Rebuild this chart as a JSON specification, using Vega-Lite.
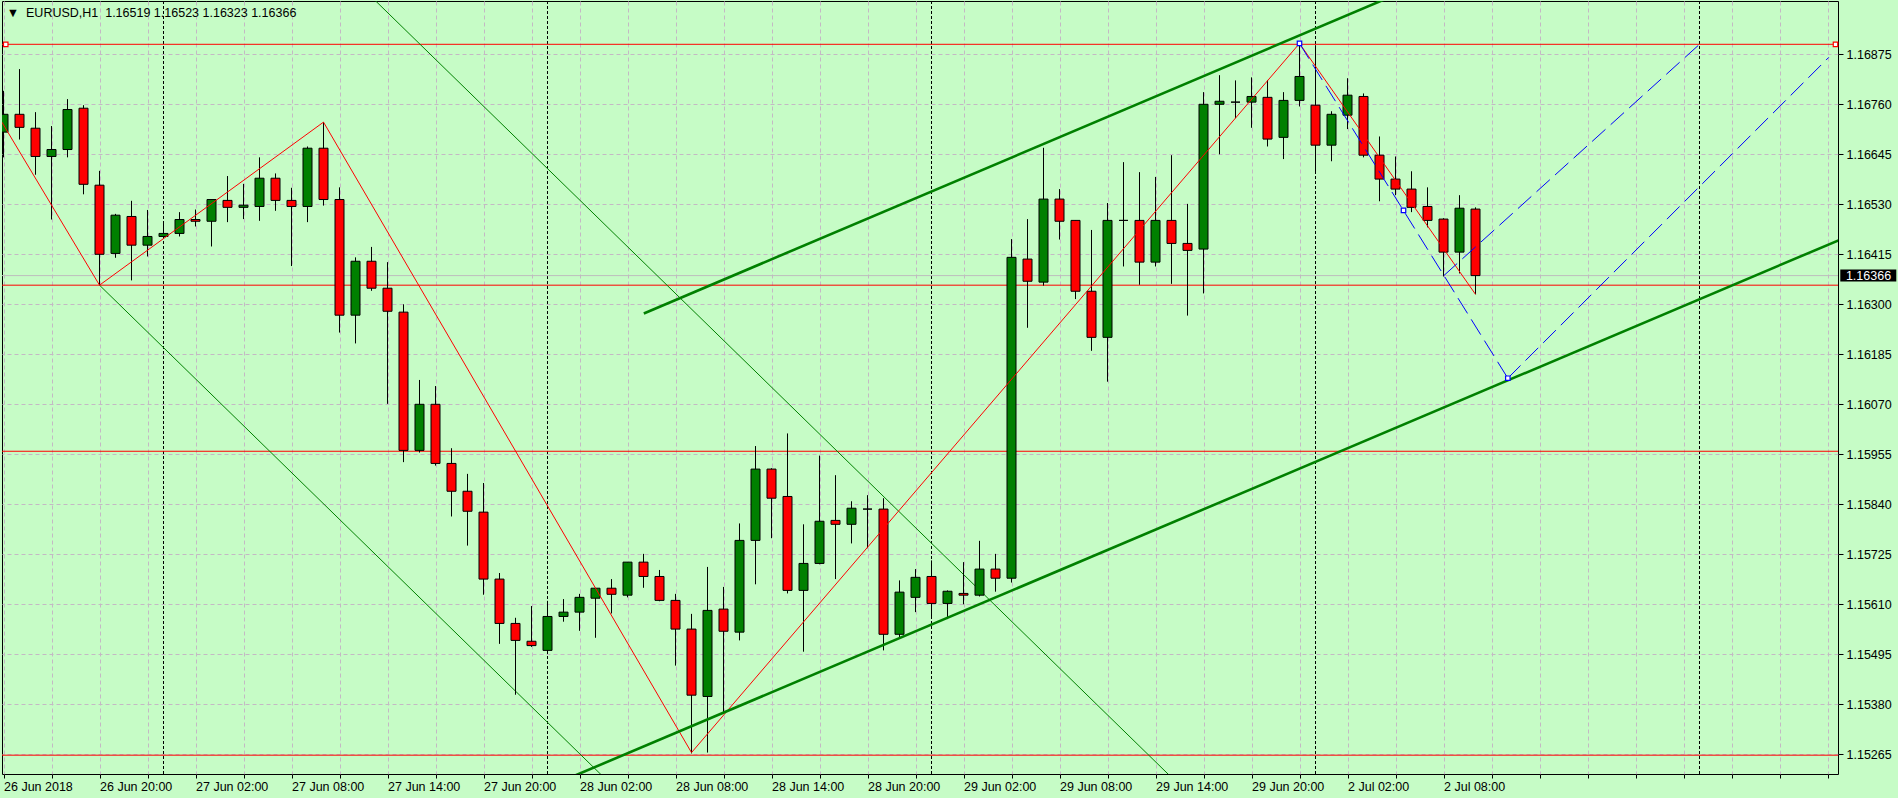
{
  "$schema": "https://vega.github.io/schema/vega-lite/v6.json",
  "width": 1836,
  "height": 773,
  "autosize": {"type": "none"},
  "padding": {"left": 2, "top": 1, "right": 60, "bottom": 24},
  "background": "#c6fcc6",
  "view": {"fill": "#c6fcc6", "stroke": "#000000", "strokeWidth": 1},
  "config": {
    "scale": {"continuousPadding": 0},
    "axis": {
      "domain": false, "grid": true, "gridColor": "#c4b8c4", "gridDash": [4, 3], "gridWidth": 1,
      "tickColor": "#000000", "labelColor": "#000000", "labelFont": "Liberation Sans",
      "labelFontSize": 12.5, "labelOverlap": false, "labelBound": false, "labelFlush": false
    }
  },
  "datasets": {
    "candles": [
      {"i":0,"o":1.16696,"h":1.16791,"l":1.16638,"c":1.16737},
      {"i":1,"o":1.16737,"h":1.16841,"l":1.16679,"c":1.16707},
      {"i":2,"o":1.16705,"h":1.16742,"l":1.16598,"c":1.16640},
      {"i":3,"o":1.16640,"h":1.16710,"l":1.16495,"c":1.16656},
      {"i":4,"o":1.16656,"h":1.16772,"l":1.16638,"c":1.16748},
      {"i":5,"o":1.16751,"h":1.16758,"l":1.16553,"c":1.16576},
      {"i":6,"o":1.16574,"h":1.16607,"l":1.16344,"c":1.16415},
      {"i":7,"o":1.16417,"h":1.16508,"l":1.16407,"c":1.16505},
      {"i":8,"o":1.16502,"h":1.16538,"l":1.16355,"c":1.16436},
      {"i":9,"o":1.16436,"h":1.16517,"l":1.16410,"c":1.16456},
      {"i":10,"o":1.16456,"h":1.16486,"l":1.16453,"c":1.16463},
      {"i":11,"o":1.16463,"h":1.16512,"l":1.16456,"c":1.16495},
      {"i":12,"o":1.16495,"h":1.16518,"l":1.16479,"c":1.16491},
      {"i":13,"o":1.16491,"h":1.16541,"l":1.16433,"c":1.16541},
      {"i":14,"o":1.16539,"h":1.16595,"l":1.16489,"c":1.16523},
      {"i":15,"o":1.16523,"h":1.16577,"l":1.16496,"c":1.16528},
      {"i":16,"o":1.16525,"h":1.16638,"l":1.16492,"c":1.16590},
      {"i":17,"o":1.16590,"h":1.16601,"l":1.16515,"c":1.16539},
      {"i":18,"o":1.16539,"h":1.16568,"l":1.16388,"c":1.16525},
      {"i":19,"o":1.16525,"h":1.16663,"l":1.16489,"c":1.16659},
      {"i":20,"o":1.16659,"h":1.16719,"l":1.16527,"c":1.16541},
      {"i":21,"o":1.16541,"h":1.16569,"l":1.16235,"c":1.16275},
      {"i":22,"o":1.16275,"h":1.16408,"l":1.16210,"c":1.16399},
      {"i":23,"o":1.16399,"h":1.16432,"l":1.16331,"c":1.16337},
      {"i":24,"o":1.16337,"h":1.16397,"l":1.16071,"c":1.16284},
      {"i":25,"o":1.16282,"h":1.16300,"l":1.15937,"c":1.15964},
      {"i":26,"o":1.15964,"h":1.16126,"l":1.15959,"c":1.16070},
      {"i":27,"o":1.16070,"h":1.16112,"l":1.15929,"c":1.15934},
      {"i":28,"o":1.15934,"h":1.15969,"l":1.15812,"c":1.15870},
      {"i":29,"o":1.15870,"h":1.15910,"l":1.15745,"c":1.15824},
      {"i":30,"o":1.15822,"h":1.15889,"l":1.15632,"c":1.15668},
      {"i":31,"o":1.15668,"h":1.15682,"l":1.15519,"c":1.15566},
      {"i":32,"o":1.15566,"h":1.15579,"l":1.15402,"c":1.15527},
      {"i":33,"o":1.15525,"h":1.15606,"l":1.15512,"c":1.15515},
      {"i":34,"o":1.15504,"h":1.15618,"l":1.15500,"c":1.15582},
      {"i":35,"o":1.15582,"h":1.15622,"l":1.15570,"c":1.15592},
      {"i":36,"o":1.15592,"h":1.15634,"l":1.15549,"c":1.15626},
      {"i":37,"o":1.15624,"h":1.15647,"l":1.15533,"c":1.15647},
      {"i":38,"o":1.15647,"h":1.15668,"l":1.15589,"c":1.15633},
      {"i":39,"o":1.15631,"h":1.15707,"l":1.15626,"c":1.15707},
      {"i":40,"o":1.15707,"h":1.15726,"l":1.15648,"c":1.15674},
      {"i":41,"o":1.15674,"h":1.15689,"l":1.15617,"c":1.15619},
      {"i":42,"o":1.15619,"h":1.15634,"l":1.15469,"c":1.15553},
      {"i":43,"o":1.15553,"h":1.15588,"l":1.15267,"c":1.15401},
      {"i":44,"o":1.15398,"h":1.15696,"l":1.15269,"c":1.15596},
      {"i":45,"o":1.15599,"h":1.15650,"l":1.15362,"c":1.15548},
      {"i":46,"o":1.15546,"h":1.15796,"l":1.15527,"c":1.15757},
      {"i":47,"o":1.15757,"h":1.15974,"l":1.15656,"c":1.15921},
      {"i":48,"o":1.15921,"h":1.15923,"l":1.15762,"c":1.15854},
      {"i":49,"o":1.15858,"h":1.16003,"l":1.15635,"c":1.15642},
      {"i":50,"o":1.15642,"h":1.15794,"l":1.15501,"c":1.15704},
      {"i":51,"o":1.15704,"h":1.15952,"l":1.15702,"c":1.15801},
      {"i":52,"o":1.15803,"h":1.15907,"l":1.15668,"c":1.15794},
      {"i":53,"o":1.15794,"h":1.15847,"l":1.15750,"c":1.15831},
      {"i":54,"o":1.15829,"h":1.15861,"l":1.15739,"c":1.15829},
      {"i":55,"o":1.15829,"h":1.15854,"l":1.15504,"c":1.15541},
      {"i":56,"o":1.15541,"h":1.15665,"l":1.15534,"c":1.15638},
      {"i":57,"o":1.15626,"h":1.15691,"l":1.15592,"c":1.15672},
      {"i":58,"o":1.15674,"h":1.15711,"l":1.15580,"c":1.15612},
      {"i":59,"o":1.15612,"h":1.15642,"l":1.15576,"c":1.15640},
      {"i":60,"o":1.15635,"h":1.15707,"l":1.15610,"c":1.15631},
      {"i":61,"o":1.15631,"h":1.15756,"l":1.15628,"c":1.15691},
      {"i":62,"o":1.15691,"h":1.15726,"l":1.15639,"c":1.15670},
      {"i":63,"o":1.15670,"h":1.16450,"l":1.15660,"c":1.16408},
      {"i":64,"o":1.16404,"h":1.16496,"l":1.16246,"c":1.16353},
      {"i":65,"o":1.16351,"h":1.16660,"l":1.16343,"c":1.16542},
      {"i":66,"o":1.16542,"h":1.16565,"l":1.16449,"c":1.16491},
      {"i":67,"o":1.16493,"h":1.16493,"l":1.16312,"c":1.16330},
      {"i":68,"o":1.16330,"h":1.16471,"l":1.16193,"c":1.16224},
      {"i":69,"o":1.16224,"h":1.16533,"l":1.16122,"c":1.16493},
      {"i":70,"o":1.16493,"h":1.16627,"l":1.16387,"c":1.16493},
      {"i":71,"o":1.16493,"h":1.16604,"l":1.16345,"c":1.16397},
      {"i":72,"o":1.16397,"h":1.16593,"l":1.16387,"c":1.16493},
      {"i":73,"o":1.16493,"h":1.16643,"l":1.16347,"c":1.16440},
      {"i":74,"o":1.16440,"h":1.16531,"l":1.16274,"c":1.16424},
      {"i":75,"o":1.16427,"h":1.16788,"l":1.16325,"c":1.16760},
      {"i":76,"o":1.16760,"h":1.16827,"l":1.16645,"c":1.16767},
      {"i":77,"o":1.16765,"h":1.16815,"l":1.16728,"c":1.16765},
      {"i":78,"o":1.16765,"h":1.16822,"l":1.16706,"c":1.16778},
      {"i":79,"o":1.16776,"h":1.16816,"l":1.16663,"c":1.16680},
      {"i":80,"o":1.16684,"h":1.16788,"l":1.16634,"c":1.16769},
      {"i":81,"o":1.16769,"h":1.16900,"l":1.16755,"c":1.16824},
      {"i":82,"o":1.16758,"h":1.16896,"l":1.16601,"c":1.16666},
      {"i":83,"o":1.16666,"h":1.16744,"l":1.16629,"c":1.16737},
      {"i":84,"o":1.16735,"h":1.16820,"l":1.16703,"c":1.16781},
      {"i":85,"o":1.16778,"h":1.16785,"l":1.16638,"c":1.16643},
      {"i":86,"o":1.16643,"h":1.16686,"l":1.16537,"c":1.16588},
      {"i":87,"o":1.16588,"h":1.16640,"l":1.16551,"c":1.16565},
      {"i":88,"o":1.16565,"h":1.16606,"l":1.16512,"c":1.16523},
      {"i":89,"o":1.16525,"h":1.16569,"l":1.16477,"c":1.16493},
      {"i":90,"o":1.16496,"h":1.16498,"l":1.16364,"c":1.16420},
      {"i":91,"o":1.16420,"h":1.16551,"l":1.16371,"c":1.16521},
      {"i":92,"o":1.16519,"h":1.16523,"l":1.16323,"c":1.16366}
    ],
    "seps": [{"i": 10}, {"i": 34}, {"i": 58}, {"i": 82}, {"i": 106}],
    "levels": [{"p": 1.16898}, {"p": 1.16344}, {"p": 1.15962}, {"p": 1.15263}],
    "segs": [
      {"kind": "zig", "i": -1, "p": 1.16774, "i2": 6, "p2": 1.16344},
      {"kind": "zig", "i": 6, "p": 1.16344, "i2": 20, "p2": 1.16719},
      {"kind": "zig", "i": 20, "p": 1.16719, "i2": 43, "p2": 1.15269},
      {"kind": "zig", "i": 43, "p": 1.15269, "i2": 81, "p2": 1.169},
      {"kind": "zig", "i": 81, "p": 1.169, "i2": 92, "p2": 1.16323},
      {"kind": "thin", "i": 6, "p": 1.16344, "i2": 40, "p2": 1.15123},
      {"kind": "thin", "i": 23, "p": 1.17007, "i2": 74, "p2": 1.15176},
      {"kind": "thick", "i": 40.02, "p": 1.16279, "i2": 87, "p2": 1.17012},
      {"kind": "thick", "i": 35, "p": 1.15205, "i2": 115, "p2": 1.16452},
      {"kind": "blue", "i": 81, "p": 1.169, "i2": 94.02, "p2": 1.1613},
      {"kind": "blue", "i": 94.02, "p": 1.1613, "i2": 114.08, "p2": 1.16868},
      {"kind": "blue", "i": 90.02, "p": 1.16366, "i2": 106, "p2": 1.16898}
    ],
    "anchors": [
      {"kind": "blue", "i": 81, "p": 1.169},
      {"kind": "blue", "i": 87.5, "p": 1.16516},
      {"kind": "blue", "i": 94.02, "p": 1.1613},
      {"kind": "red", "i": 0.14, "p": 1.16898},
      {"kind": "red", "i": 114.5, "p": 1.16898}
    ],
    "header": [{"label": "▼\u00a0\u00a0EURUSD,H1\u00a0\u00a01.16519 1.16523 1.16323 1.16366"}]
  },
  "layer": [
    {
      "data": {"name": "seps"},
      "mark": {"type": "rule", "color": "#000000", "strokeWidth": 1, "strokeDash": [3, 2]},
      "encoding": {
        "x": {"field": "i", "type": "quantitative", "title": null, "scale": {"domain": [-0.09375, 114.65625], "nice": false, "zero": false, "padding": 0}}
      }
    },
    {
      "data": {"name": "levels"},
      "mark": {"type": "rule", "color": "#ff0000", "strokeWidth": 1},
      "encoding": {
        "y": {"field": "p", "type": "quantitative", "title": null, "scale": {"domain": [1.152197, 1.169976], "nice": false, "zero": false, "padding": 0}}
      }
    },
    {
      "data": {"name": "candles"},
      "transform": [{"filter": "datum.i === 92"}],
      "mark": {"type": "rule", "color": "#bdbdbd", "strokeWidth": 1},
      "encoding": {
        "y": {"field": "c", "type": "quantitative", "title": null, "scale": {"domain": [1.152197, 1.169976], "nice": false, "zero": false, "padding": 0}}
      }
    },
    {
      "data": {"name": "segs"},
      "transform": [{"filter": "datum.kind === 'thin'"}],
      "mark": {"type": "rule", "color": "#008000", "strokeWidth": 1, "clip": true},
      "encoding": {
        "x": {"field": "i", "type": "quantitative", "title": null, "scale": {"domain": [-0.09375, 114.65625], "nice": false, "zero": false, "padding": 0}},
        "y": {"field": "p", "type": "quantitative", "title": null, "scale": {"domain": [1.152197, 1.169976], "nice": false, "zero": false, "padding": 0}},
        "x2": {"field": "i2"},
        "y2": {"field": "p2"}
      }
    },
    {
      "data": {"name": "candles"},
      "mark": {"type": "rule", "color": "#000000", "strokeWidth": 1, "clip": true},
      "encoding": {
        "x": {
          "field": "i", "type": "quantitative", "title": null,
          "scale": {"domain": [-0.09375, 114.65625], "nice": false, "zero": false, "padding": 0},
          "axis": {
            "orient": "bottom",
            "values": [0,3,6,9,12,15,18,21,24,27,30,33,36,39,42,45,48,51,54,57,60,63,66,69,72,75,78,81,84,87,90,93,96,99,102,105,108,111,114],
            "labelExpr": "datum.value % 6 === 0 && datum.value <= 90 ? ['26 Jun 2018','26 Jun 20:00','27 Jun 02:00','27 Jun 08:00','27 Jun 14:00','27 Jun 20:00','28 Jun 02:00','28 Jun 08:00','28 Jun 14:00','28 Jun 20:00','29 Jun 02:00','29 Jun 08:00','29 Jun 14:00','29 Jun 20:00','2 Jul 02:00','2 Jul 08:00'][datum.value / 6] : ''",
            "labelAlign": "left", "labelBaseline": "top", "labelPadding": 2, "tickSize": 4
          }
        },
        "y": {
          "field": "l", "type": "quantitative", "title": null,
          "scale": {"domain": [1.152197, 1.169976], "nice": false, "zero": false, "padding": 0},
          "axis": {
            "orient": "right",
            "values": [1.15265, 1.1538, 1.15495, 1.1561, 1.15725, 1.1584, 1.15955, 1.1607, 1.16185, 1.163, 1.16415, 1.1653, 1.16645, 1.1676, 1.16875],
            "format": ".5f", "tickSize": 5, "labelPadding": 3, "labelAlign": "left", "labelBaseline": "middle"
          }
        },
        "y2": {"field": "h"}
      }
    },
    {
      "data": {"name": "candles"},
      "mark": {"type": "bar", "orient": "vertical", "size": 9, "stroke": "#000000", "strokeWidth": 1, "clip": true},
      "encoding": {
        "x": {"field": "i", "type": "quantitative", "title": null, "scale": {"domain": [-0.09375, 114.65625], "nice": false, "zero": false, "padding": 0}},
        "y": {"field": "o", "type": "quantitative", "title": null, "scale": {"domain": [1.152197, 1.169976], "nice": false, "zero": false, "padding": 0}},
        "y2": {"field": "c"},
        "fill": {"condition": {"test": "datum.c < datum.o", "value": "#ff0000"}, "value": "#008000"}
      }
    },
    {
      "data": {"name": "segs"},
      "transform": [{"filter": "datum.kind === 'zig'"}],
      "mark": {"type": "rule", "color": "#ff0000", "strokeWidth": 1, "clip": true},
      "encoding": {
        "x": {"field": "i", "type": "quantitative", "title": null, "scale": {"domain": [-0.09375, 114.65625], "nice": false, "zero": false, "padding": 0}},
        "y": {"field": "p", "type": "quantitative", "title": null, "scale": {"domain": [1.152197, 1.169976], "nice": false, "zero": false, "padding": 0}},
        "x2": {"field": "i2"},
        "y2": {"field": "p2"}
      }
    },
    {
      "data": {"name": "segs"},
      "transform": [{"filter": "datum.kind === 'thick'"}],
      "mark": {"type": "rule", "color": "#008000", "strokeWidth": 2.6, "clip": true},
      "encoding": {
        "x": {"field": "i", "type": "quantitative", "title": null, "scale": {"domain": [-0.09375, 114.65625], "nice": false, "zero": false, "padding": 0}},
        "y": {"field": "p", "type": "quantitative", "title": null, "scale": {"domain": [1.152197, 1.169976], "nice": false, "zero": false, "padding": 0}},
        "x2": {"field": "i2"},
        "y2": {"field": "p2"}
      }
    },
    {
      "data": {"name": "segs"},
      "transform": [{"filter": "datum.kind === 'blue'"}],
      "mark": {"type": "rule", "color": "#0000ff", "strokeWidth": 1, "strokeDash": [18, 7], "clip": true},
      "encoding": {
        "x": {"field": "i", "type": "quantitative", "title": null, "scale": {"domain": [-0.09375, 114.65625], "nice": false, "zero": false, "padding": 0}},
        "y": {"field": "p", "type": "quantitative", "title": null, "scale": {"domain": [1.152197, 1.169976], "nice": false, "zero": false, "padding": 0}},
        "x2": {"field": "i2"},
        "y2": {"field": "p2"}
      }
    },
    {
      "data": {"name": "anchors"},
      "transform": [{"filter": "datum.kind === 'blue'"}],
      "mark": {"type": "point", "shape": "square", "size": 20, "filled": true, "fill": "#ffffff", "stroke": "#0000ff", "strokeWidth": 1.2, "opacity": 1},
      "encoding": {
        "x": {"field": "i", "type": "quantitative", "title": null, "scale": {"domain": [-0.09375, 114.65625], "nice": false, "zero": false, "padding": 0}},
        "y": {"field": "p", "type": "quantitative", "title": null, "scale": {"domain": [1.152197, 1.169976], "nice": false, "zero": false, "padding": 0}}
      }
    },
    {
      "data": {"name": "anchors"},
      "transform": [{"filter": "datum.kind === 'red'"}],
      "mark": {"type": "point", "shape": "square", "size": 20, "filled": true, "fill": "#ffffff", "stroke": "#ff0000", "strokeWidth": 1.2, "opacity": 1},
      "encoding": {
        "x": {"field": "i", "type": "quantitative", "title": null, "scale": {"domain": [-0.09375, 114.65625], "nice": false, "zero": false, "padding": 0}},
        "y": {"field": "p", "type": "quantitative", "title": null, "scale": {"domain": [1.152197, 1.169976], "nice": false, "zero": false, "padding": 0}}
      }
    },
    {
      "data": {"name": "candles"},
      "transform": [{"filter": "datum.i === 92"}],
      "mark": {"type": "bar", "orient": "horizontal", "size": 12, "color": "#000000"},
      "encoding": {
        "y": {"field": "c", "type": "quantitative", "title": null, "scale": {"domain": [1.152197, 1.169976], "nice": false, "zero": false, "padding": 0}},
        "x": {"datum": 114.8, "type": "quantitative", "scale": {"domain": [-0.09375, 114.65625], "nice": false, "zero": false, "padding": 0}},
        "x2": {"datum": 118.3}
      }
    },
    {
      "data": {"name": "candles"},
      "transform": [{"filter": "datum.i === 92"}],
      "mark": {"type": "text", "align": "left", "baseline": "middle", "color": "#ffffff", "font": "Liberation Sans", "fontSize": 12.5},
      "encoding": {
        "y": {"field": "c", "type": "quantitative", "title": null, "scale": {"domain": [1.152197, 1.169976], "nice": false, "zero": false, "padding": 0}},
        "x": {"datum": 115.15, "type": "quantitative", "scale": {"domain": [-0.09375, 114.65625], "nice": false, "zero": false, "padding": 0}},
        "text": {"field": "c", "type": "quantitative", "format": ".5f"}
      }
    },
    {
      "data": {"name": "header"},
      "mark": {"type": "text", "align": "left", "baseline": "alphabetic", "color": "#000000", "font": "Liberation Sans", "fontSize": 12.5},
      "encoding": {
        "x": {"datum": 0.2, "type": "quantitative", "scale": {"domain": [-0.09375, 114.65625], "nice": false, "zero": false, "padding": 0}},
        "y": {"datum": 1.16961, "type": "quantitative", "scale": {"domain": [1.152197, 1.169976], "nice": false, "zero": false, "padding": 0}},
        "text": {"field": "label"}
      }
    }
  ]
}
